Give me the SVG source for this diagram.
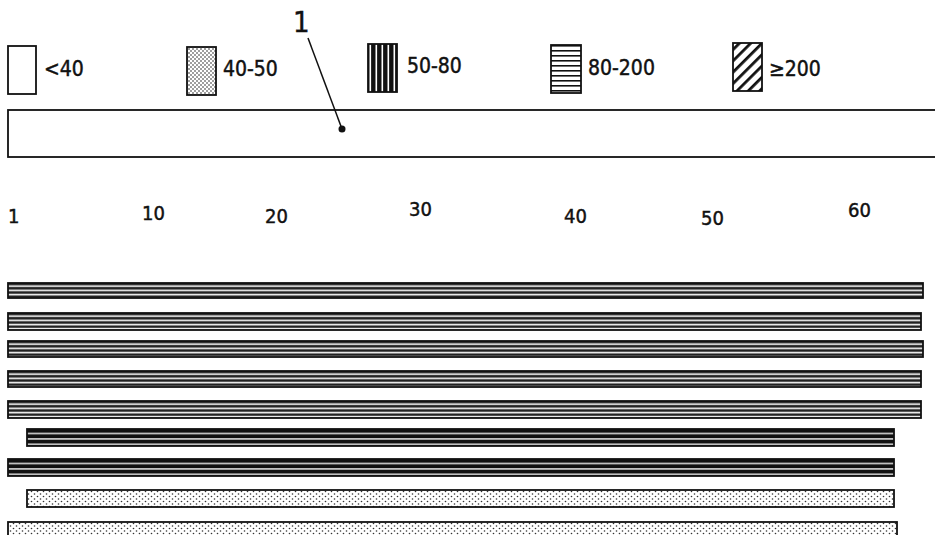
<svg xmlns="http://www.w3.org/2000/svg" width="935" height="535" viewBox="0 0 935 535">
<style>
.t{font-family:"DejaVu Sans Condensed","Liberation Sans Narrow","DejaVu Sans",sans-serif;fill:#111;stroke:#111;stroke-width:0.45}
.lg{font-size:21px}
.ax{font-size:20px}
.box{stroke:#111;stroke-width:1.8}
.bar{stroke:#111;stroke-width:1.8}
</style>
<defs>
<pattern id="dots" patternUnits="userSpaceOnUse" width="6" height="5">
<rect width="6" height="5" fill="#fff"/>
<circle cx="1.5" cy="1.5" r="0.8" fill="#333"/>
<circle cx="4.5" cy="4" r="0.8" fill="#333"/>
</pattern>
<pattern id="dotsDense" patternUnits="userSpaceOnUse" width="4" height="4">
<rect width="4" height="4" fill="#fff"/>
<circle cx="1" cy="1" r="0.8" fill="#222"/>
<circle cx="3" cy="3" r="0.8" fill="#222"/>
</pattern>
<pattern id="vlines" patternUnits="userSpaceOnUse" width="6" height="10">
<rect width="6" height="10" fill="#111"/>
<rect x="3.5" width="1.6" height="10" fill="#fff"/>
</pattern>
<pattern id="hlegend" patternUnits="userSpaceOnUse" width="10" height="5">
<rect width="10" height="5" fill="#fff"/>
<rect width="10" height="1.6" fill="#111"/>
</pattern>
<pattern id="diag" patternUnits="userSpaceOnUse" width="8" height="8" patternTransform="rotate(45)">
<rect width="8" height="8" fill="#fff"/>
<rect width="2.8" height="8" fill="#111"/>
</pattern>
<pattern id="hbar" patternUnits="userSpaceOnUse" width="20" height="4.2">
<rect width="20" height="4.2" fill="#222"/>
<rect y="2.3" width="20" height="1.7" fill="#f2f2f2"/>
</pattern>
<pattern id="hbar2" patternUnits="userSpaceOnUse" width="20" height="5.4">
<rect width="20" height="5.4" fill="#111"/>
<rect y="3.8" width="20" height="1.4" fill="#f2f2f2"/>
</pattern>
</defs>
<rect width="935" height="535" fill="#fff"/>

<g id="legend">
<g id="legend-lt40">
<rect class="box" x="8" y="46" width="28" height="48" fill="#fff"/>
<text class="t lg" x="44" y="76">&lt;40</text>
</g>
<g id="legend-40-50">
<rect class="box" x="187" y="47" width="29" height="48" fill="url(#dotsDense)"/>
<text class="t lg" x="223" y="76">40-50</text>
</g>
<g id="legend-50-80">
<rect class="box" x="368" y="44" width="29" height="48" fill="url(#vlines)"/>
<text class="t lg" x="407" y="73">50-80</text>
</g>
<g id="legend-80-200">
<rect class="box" x="551" y="45" width="30" height="48" fill="url(#hlegend)"/>
<text class="t lg" x="588" y="75">80-200</text>
</g>
<g id="legend-ge200">
<rect class="box" x="733" y="43" width="29" height="48" fill="url(#diag)"/>
<text class="t lg" x="769" y="76">≥200</text>
</g>
</g>

<g id="sequence">
<rect x="8" y="110" width="940" height="47" fill="#fff" stroke="#111" stroke-width="1.8"/>
</g>

<g id="label-1">
<text class="t" x="293" y="32" font-size="29" stroke-width="0.3">1</text>
</g>

<g id="connectors">
<line x1="308" y1="38" x2="342" y2="129" stroke="#111" stroke-width="1.5"/>
<circle cx="342" cy="129" r="3.5" fill="#111"/>
</g>

<g id="axis">
<text class="t ax" x="8" y="223">1</text>
<text class="t ax" x="142" y="220">10</text>
<text class="t ax" x="265" y="223">20</text>
<text class="t ax" x="409" y="216">30</text>
<text class="t ax" x="564" y="223">40</text>
<text class="t ax" x="701" y="225">50</text>
<text class="t ax" x="848" y="217">60</text>
</g>

<g id="bars">
<g id="bar1" transform="translate(0,283)"><rect class="bar" x="8" y="0" width="915" height="15" fill="url(#hbar)"/></g>
<g id="bar2" transform="translate(0,313)"><rect class="bar" x="8" y="0" width="913" height="17" fill="url(#hbar)"/></g>
<g id="bar3" transform="translate(0,341)"><rect class="bar" x="8" y="0" width="915" height="16" fill="url(#hbar)"/></g>
<g id="bar4" transform="translate(0,371)"><rect class="bar" x="8" y="0" width="913" height="16" fill="url(#hbar)"/></g>
<g id="bar5" transform="translate(0,401)"><rect class="bar" x="8" y="0" width="913" height="17" fill="url(#hbar)"/></g>
<g id="bar6" transform="translate(0,429)"><rect class="bar" x="27" y="0" width="867" height="17" fill="url(#hbar2)"/></g>
<g id="bar7" transform="translate(0,459)"><rect class="bar" x="8" y="0" width="886" height="17" fill="url(#hbar2)"/></g>
<g id="bar8" transform="translate(0,490)"><rect class="bar" x="27" y="0" width="867" height="17" fill="url(#dots)"/></g>
<g id="bar9" transform="translate(0,522)"><rect class="bar" x="8" y="0" width="889" height="17" fill="url(#dots)"/></g>
</g>
</svg>
